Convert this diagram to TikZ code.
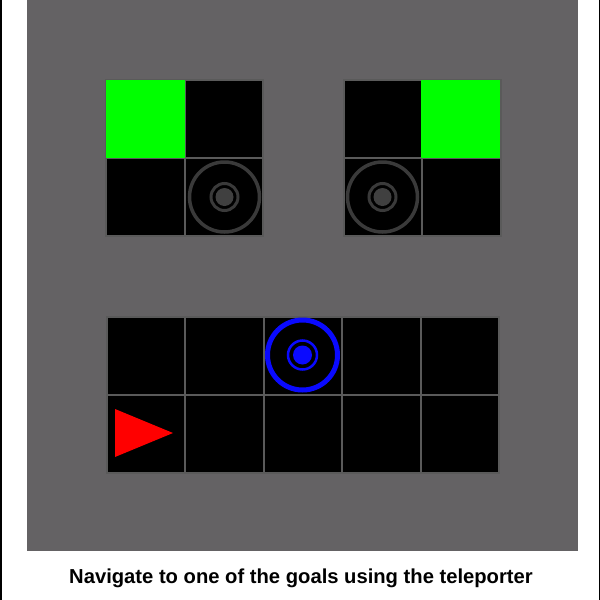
\documentclass[tikz,border=0pt]{standalone}
\usepackage{fontspec}
\setmainfont{Liberation Sans}
\definecolor{bggray}{HTML}{646264}
\definecolor{cellgray}{HTML}{5A5A5A}
\definecolor{ringgray}{HTML}{3A3A3A}
\definecolor{dotgray}{HTML}{404040}
\definecolor{goalgreen}{HTML}{00FF00}
\definecolor{agentblue}{HTML}{0A0AFF}
\begin{document}
\begin{tikzpicture}[x=1pt,y=-1pt,
  cellbox/.style={fill=black,draw=cellgray,line width=2pt},
  goalbox/.style={fill=goalgreen,draw=none},
  tring/.style={draw=ringgray,line width=3.5pt},
  bring/.style={draw=agentblue},
  caption/.style={font=\bfseries\fontsize{20.2}{24}\selectfont,text=black}]
\useasboundingbox (0,0) rectangle (600,600);
\fill[white] (0,0) rectangle (600,600);
\fill[black] (0,0) rectangle (1.5,600);
\fill[black] (598.5,0) rectangle (600,600);
\fill[bggray] (27,0) rectangle (578,551);
% top-left block
\foreach \i in {0,1}{\foreach \j in {0,1}{
  \draw[cellbox] ({106+78.5*\i},{80+78*\j}) rectangle ++(78.5,78);}}
\fill[goalgreen] (106,80) rectangle (185,158);
% top-right block
\foreach \i in {0,1}{\foreach \j in {0,1}{
  \draw[cellbox] ({343.5+78.5*\i},{80+78*\j}) rectangle ++(78.5,78);}}
\fill[goalgreen] (421,80) rectangle (500,158);
% bottom block
\foreach \i in {0,...,4}{\foreach \j in {0,1}{
  \draw[cellbox] ({107+78.4*\i},{317+78*\j}) rectangle ++(78.4,78);}}
% teleporters (gray)
\foreach \cx in {224.5,382.5}{
  \draw[tring] (\cx,197) circle (35);
  \draw[ringgray,line width=3pt] (\cx,197) circle (13.5);
  \fill[dotgray] (\cx,197) circle (9);}
% blue teleporter (active)
\draw[bring,line width=5pt] (302.5,355) circle (35);
\draw[bring,line width=2.5pt] (302.5,355) circle (14.5);
\fill[agentblue] (302.5,355) circle (9.5);
% agent
\fill[red] (115,409) -- (115,457) -- (173,433) -- cycle;
% caption
\node[caption] (cap) at (301,578) {Navigate to one of the goals using the teleporter};
\end{tikzpicture}
\end{document}
